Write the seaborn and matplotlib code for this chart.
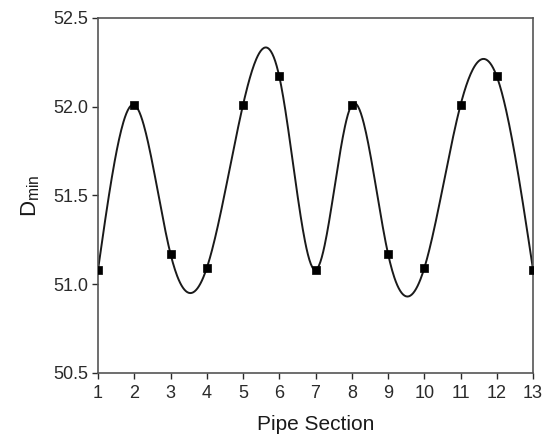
import numpy as np
import pandas as pd
import matplotlib
matplotlib.use("Agg")
import matplotlib.pyplot as plt
import seaborn as sns

sections = [1, 2, 3, 4, 5, 6, 7, 8, 9, 10, 11, 12, 13]
d_min = [51.08, 52.01, 51.17, 51.09, 52.01, 52.17, 51.08, 52.01, 51.17, 51.09, 52.01, 52.17, 51.08]
y_ticks = [50.5, 51.0, 51.5, 52.0, 52.5]


def natural_cubic_spline(x, y, xs):
    x = np.asarray(x, float)
    y = np.asarray(y, float)
    n = len(x)
    h = np.diff(x)
    A = np.zeros((n, n))
    r = np.zeros(n)
    A[0, 0] = 1
    A[-1, -1] = 1
    for i in range(1, n - 1):
        A[i, i - 1] = h[i - 1]
        A[i, i] = 2 * (h[i - 1] + h[i])
        A[i, i + 1] = h[i]
        r[i] = 3 * ((y[i + 1] - y[i]) / h[i] - (y[i] - y[i - 1]) / h[i - 1])
    c = np.linalg.solve(A, r)
    b = (y[1:] - y[:-1]) / h - h * (2 * c[:-1] + c[1:]) / 3
    d = (c[1:] - c[:-1]) / (3 * h)
    idx = np.clip(np.searchsorted(x, xs) - 1, 0, n - 2)
    dx = xs - x[idx]
    return y[idx] + b[idx] * dx + c[idx] * dx ** 2 + d[idx] * dx ** 3


sns.set_theme(style="ticks")
plt.rcParams["font.family"] = ["Liberation Sans", "DejaVu Sans"]

fig = plt.figure(figsize=(5.49, 4.38), dpi=100)
ax = fig.add_axes([0.1785, 0.149, 0.7925, 0.810])

xs = np.linspace(sections[0], sections[-1], 600)
curve = pd.DataFrame({"x": xs, "y": natural_cubic_spline(sections, d_min, xs)})
pts = pd.DataFrame({"x": sections, "y": d_min})

sns.lineplot(data=curve, x="x", y="y", ax=ax, color="#1a1a1a", linewidth=1.4)
sns.scatterplot(data=pts, x="x", y="y", ax=ax, color="black", marker="s", s=34,
                edgecolor="black", linewidth=0.5, zorder=3)

ax.set_xlim(1, 13)
ax.set_ylim(50.5, 52.5)
ax.set_xticks(sections)
ax.set_xticklabels([str(s) for s in sections])
ax.set_yticks(y_ticks)
ax.set_yticklabels([f"{v:.1f}" for v in y_ticks])
ax.tick_params(axis="both", direction="out", length=4, width=1, labelsize=13,
               colors="#2a2a2a")
ax.tick_params(axis="x", pad=5)
ax.tick_params(axis="y", pad=3)
for sp in ax.spines.values():
    sp.set_visible(True)
    sp.set_color("#555555")
    sp.set_linewidth(1.2)
ax.set_xlabel("Pipe Section", fontsize=15, color="#1a1a1a", labelpad=9)
ax.set_ylabel(r"D$_{\mathregular{min}}$", fontsize=16, color="#1a1a1a", labelpad=8)

fig.savefig("out.png", dpi=100, facecolor="white")
